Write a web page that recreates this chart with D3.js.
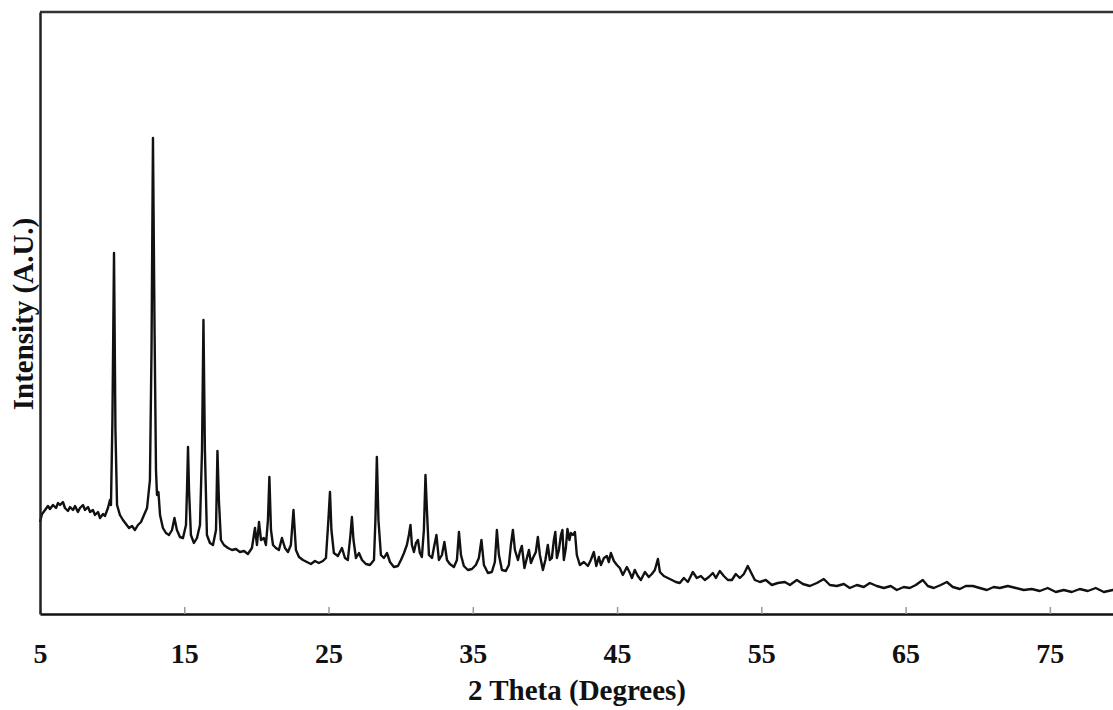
<!DOCTYPE html>
<html>
<head>
<meta charset="utf-8">
<script src="https://cdn.jsdelivr.net/npm/d3@7"></script>
<style>
	body { margin: 0; background: #fff; }
	svg { display: block; }
	text { font-family: 'Liberation Serif', 'Times New Roman', serif; font-weight: bold; fill: #111; }
</style>
</head>
<body>
<script>
// 2 theta (degrees)
const twoTheta = [
	5.00, 5.14, 5.35, 5.55, 5.69, 5.90, 6.11, 6.25, 6.39, 6.59, 6.73, 6.94, 7.08, 7.29, 7.43, 7.63,
	7.77, 7.98, 8.12, 8.33, 8.47, 8.67, 8.81, 9.02, 9.16, 9.37, 9.50, 9.71, 9.85, 9.92, 10.02, 10.13,
	10.23, 10.34, 10.54, 10.75, 10.96, 11.17, 11.38, 11.58, 11.79, 12.00, 12.21, 12.42, 12.62, 12.73,
	12.83, 12.94, 13.04, 13.11, 13.21, 13.32, 13.52, 13.73, 13.94, 14.15, 14.32, 14.49, 14.70, 14.91,
	15.12, 15.19, 15.26, 15.33, 15.46, 15.67, 15.88, 16.09, 16.23, 16.33, 16.43, 16.57, 16.78, 16.99,
	17.20, 17.30, 17.40, 17.54, 17.75, 18.03, 18.31, 18.58, 18.86, 19.14, 19.41, 19.69, 19.90, 20.04,
	20.18, 20.32, 20.52, 20.66, 20.80, 20.90, 21.01, 21.15, 21.35, 21.56, 21.77, 21.98, 22.19, 22.39,
	22.57, 22.74, 22.95, 23.23, 23.50, 23.78, 24.06, 24.33, 24.61, 24.82, 24.99, 25.10, 25.20, 25.37,
	25.65, 25.93, 26.14, 26.34, 26.52, 26.62, 26.73, 26.90, 27.11, 27.32, 27.59, 27.87, 28.15, 28.25,
	28.35, 28.46, 28.63, 28.84, 29.05, 29.26, 29.53, 29.81, 30.02, 30.23, 30.43, 30.57, 30.68, 30.78,
	30.92, 31.06, 31.20, 31.33, 31.47, 31.61, 31.72, 31.82, 31.96, 32.17, 32.30, 32.48, 32.65, 32.86,
	33.03, 33.21, 33.41, 33.69, 33.90, 34.04, 34.18, 34.38, 34.66, 34.94, 35.21, 35.42, 35.60, 35.77,
	36.05, 36.32, 36.53, 36.67, 36.81, 37.02, 37.29, 37.50, 37.64, 37.78, 37.92, 38.13, 38.26, 38.40,
	38.58, 38.75, 38.89, 39.03, 39.17, 39.37, 39.51, 39.65, 39.86, 40.03, 40.20, 40.34, 40.48, 40.62,
	40.72, 40.83, 40.97, 41.11, 41.21, 41.31, 41.45, 41.56, 41.70, 41.80, 41.94, 42.08, 42.21, 42.42,
	42.70, 42.98, 43.18, 43.39, 43.56, 43.74, 43.88, 44.09, 44.29, 44.43, 44.57, 44.78, 44.99, 45.19,
	45.40, 45.68, 45.89, 46.03, 46.23, 46.44, 46.65, 46.93, 47.20, 47.41, 47.62, 47.83, 47.97, 48.24,
	48.52, 48.80, 49.07, 49.35, 49.63, 49.91, 50.25, 50.53, 50.81, 51.08, 51.36, 51.64, 51.85, 52.12,
	52.40, 52.68, 52.96, 53.23, 53.51, 53.79, 54.06, 54.27, 54.55, 54.90, 55.31, 55.73, 56.14, 56.63,
	56.98, 57.46, 57.88, 58.36, 58.85, 59.33, 59.75, 60.23, 60.72, 61.13, 61.62, 62.10, 62.52, 63.00,
	63.49, 63.97, 64.39, 64.87, 65.29, 65.71, 66.19, 66.54, 66.95, 67.44, 67.86, 68.27, 68.76, 69.17,
	69.66, 70.14, 70.63, 71.11, 71.53, 72.08, 72.64, 73.19, 73.75, 74.30, 74.85, 75.41, 75.96, 76.52,
	77.07, 77.63, 78.18, 78.74, 79.36, 79.98
]

// intensity (A.U.), same order
const intensity = [
	92, 100, 104, 108, 105, 109, 106, 111, 109, 112, 106, 103, 107, 104, 108, 102,
	106, 109, 104, 107, 102, 104, 99, 102, 96, 100, 98, 106, 114, 109, 194, 361,
	184, 109, 99, 94, 90, 86, 88, 84, 89, 92, 99, 106, 134, 264,
	476, 284, 144, 119, 122, 99, 86, 81, 79, 84, 96, 84, 77, 76,
	89, 124, 167, 124, 79, 71, 76, 89, 164, 294, 164, 79, 71, 69,
	84, 163, 114, 74, 69, 66, 64, 65, 62, 63, 60, 66, 86, 69,
	92, 74, 76, 69, 94, 137, 84, 69, 66, 64, 76, 66, 62, 69,
	104, 64, 57, 54, 52, 50, 53, 51, 53, 56, 94, 122, 84, 61,
	58, 66, 56, 54, 79, 97, 74, 56, 61, 54, 50, 49, 54, 94,
	157, 94, 59, 56, 61, 52, 47, 48, 54, 61, 69, 79, 89, 69,
	62, 71, 74, 61, 57, 84, 139, 104, 59, 56, 66, 79, 54, 59,
	72, 54, 50, 47, 54, 82, 59, 48, 44, 45, 49, 56, 74, 49,
	41, 42, 52, 84, 59, 44, 43, 49, 69, 84, 64, 54, 62, 68,
	46, 56, 64, 51, 56, 62, 77, 59, 44, 54, 69, 54, 56, 74,
	82, 56, 64, 79, 84, 54, 66, 85, 74, 81, 79, 82, 59, 49,
	52, 48, 54, 62, 48, 57, 49, 56, 58, 52, 61, 53, 49, 46,
	39, 47, 41, 36, 44, 38, 34, 42, 37, 40, 44, 55, 42, 38,
	36, 34, 32, 31, 36, 32, 42, 36, 38, 34, 37, 41, 36, 43,
	38, 34, 34, 40, 36, 40, 48, 42, 34, 32, 34, 29, 31, 32,
	29, 34, 30, 28, 31, 35, 29, 28, 30, 26, 29, 27, 31, 28,
	26, 28, 24, 27, 26, 29, 34, 28, 26, 29, 32, 27, 25, 28,
	28, 26, 24, 27, 26, 28, 26, 24, 25, 23, 26, 22, 24, 22,
	25, 23, 26, 22, 24, 23
]

const xTicks = [5, 15, 25, 35, 45, 55, 65, 75]

const width = 1113
const height = 710
const margin = { top: 12, left: 40, bottom: 96 }
const plotBottom = height - margin.bottom

const scan = twoTheta.map((t, i) => ({ t: t, v: intensity[i] }))

const svg = d3.select('body')
	.append('svg')
	.attr('width', width)
	.attr('height', height)

// plot runs out past the right edge of the picture
const xScale = d3.scaleLinear()
	.domain([5, 80])
	.range([margin.left, 1122])

const yScale = d3.scaleLinear()
	.domain([0, 602])
	.range([plotBottom, margin.top])

const line = d3.line()
	.x(d => xScale(d.t))
	.y(d => yScale(d.v))

svg.append('path')
	.datum(scan)
	.attr('d', line)
	.attr('fill', 'none')
	.attr('stroke', '#111')
	.attr('stroke-width', 2.4)
	.attr('stroke-linejoin', 'round')

// frame
svg.append('line')
	.attr('x1', xScale(5))
	.attr('x2', xScale(80))
	.attr('y1', yScale(602))
	.attr('y2', yScale(602))
	.attr('stroke', '#333')
	.attr('stroke-width', 2.5)

const xAxis = d3.axisBottom(xScale)
	.tickValues(xTicks)
	.tickSizeInner(-7)
	.tickSizeOuter(0)
	.tickPadding(29)

const gx = svg.append('g')
	.attr('transform', `translate(0,${plotBottom})`)
	.call(xAxis)

gx.select('.domain')
	.attr('stroke', '#111')
	.attr('stroke-width', 2.5)
gx.selectAll('.tick line')
	.attr('stroke', '#999')
	.attr('stroke-width', 1.5)
gx.selectAll('.tick text')
	.style('font-size', '28px')
	.attr('fill', '#111')

const yAxis = d3.axisLeft(yScale)
	.tickValues([])
	.tickSizeOuter(0)

svg.append('g')
	.attr('transform', `translate(${margin.left},0)`)
	.call(yAxis)
	.select('.domain')
	.attr('stroke', '#222')
	.attr('stroke-width', 2.5)

svg.append('text')
	.attr('x', 577)
	.attr('y', 700)
	.attr('text-anchor', 'middle')
	.style('font-size', '29px')
	.text('2 Theta (Degrees)')

svg.append('text')
	.attr('transform', 'translate(33,314) rotate(-90)')
	.attr('text-anchor', 'middle')
	.style('font-size', '29px')
	.text('Intensity (A.U.)')
</script>
</body>
</html>
